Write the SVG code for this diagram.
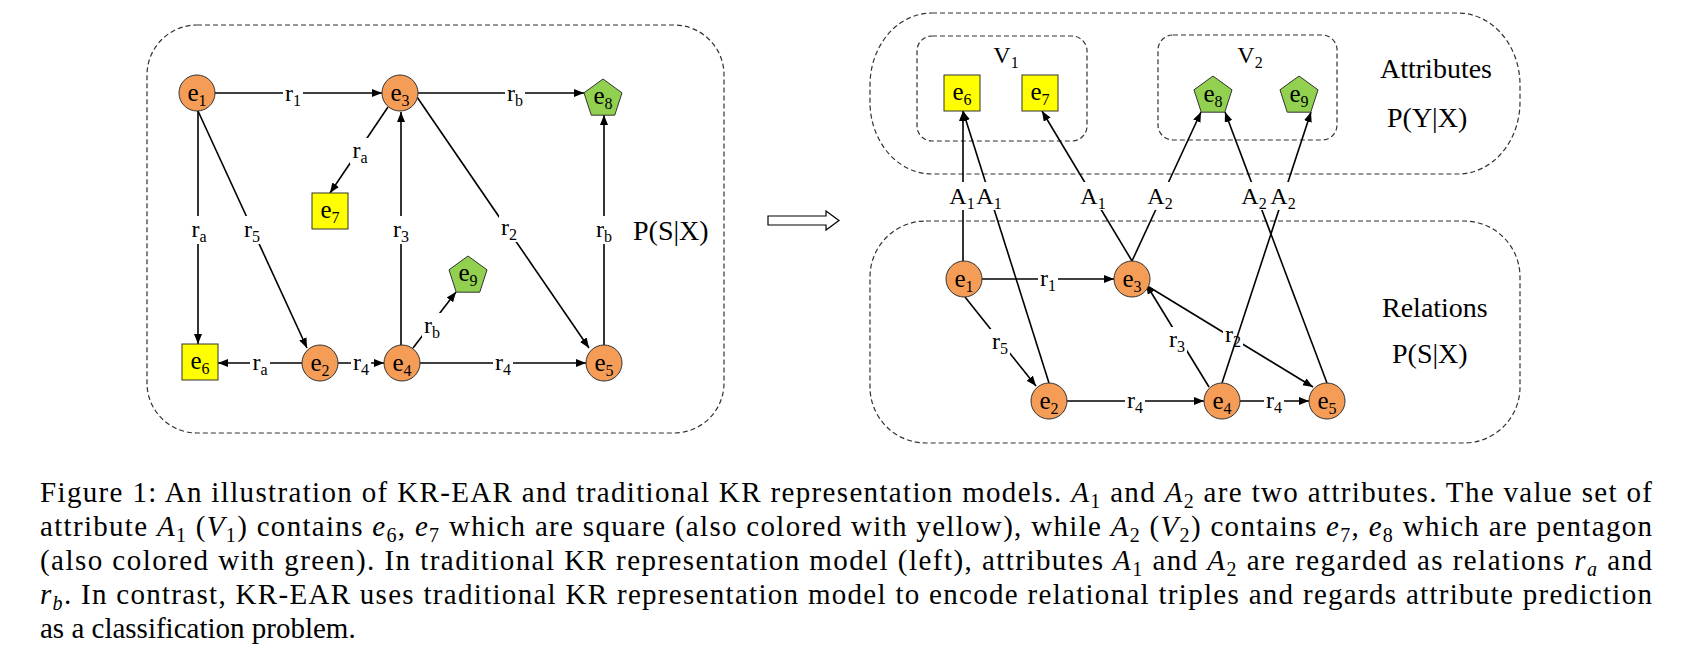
<svg xmlns="http://www.w3.org/2000/svg" width="1691" height="654" viewBox="0 0 1691 654">
<style>
text{font-family:"Liberation Serif","Times New Roman",serif;fill:#000}
.box{fill:none;stroke:#333;stroke-width:1.2;stroke-dasharray:5 3}
.edge{fill:none;stroke:#000;stroke-width:1.6;marker-end:url(#ah)}
.bg{fill:#fff}
.circ{fill:#F59D56;stroke:#333;stroke-width:1}
.sq{fill:#FFFF00;stroke:#333;stroke-width:1}
.pent{fill:#92D050;stroke:#333;stroke-width:1}
.nl{font-size:25px;text-anchor:middle}
.el{font-size:24px;text-anchor:middle}
.sub{font-size:16px}
.big{font-size:28px}
.cap{font-size:29px}
.cs{font-size:20px}
</style>
<defs>
<marker id="ah" markerUnits="userSpaceOnUse" markerWidth="11" markerHeight="9" refX="10" refY="4" orient="auto">
<path d="M0,0 L10,4 L0,8 z" fill="#000"/>
</marker>
</defs>

<!-- boxes -->
<g id="left-box"><rect class="box" x="147" y="25" width="577" height="408" rx="50" ry="50"/></g>
<g id="attr-box"><rect class="box" x="870" y="13" width="650" height="161" rx="62" ry="72"/></g>
<g id="v1-box"><rect class="box" x="917" y="36" width="170" height="105" rx="15" ry="15"/></g>
<g id="v2-box"><rect class="box" x="1158" y="35" width="179" height="105" rx="15" ry="15"/></g>
<g id="rel-box"><rect class="box" x="870" y="221" width="650" height="222" rx="56" ry="56"/></g>

<!-- connectors -->
<g id="connectors">
<path class="edge" d="M215,93 L382,93"/>
<path class="edge" d="M418,93 L584,93"/>
<path class="edge" d="M388,107 L330,193"/>
<path class="edge" d="M198,111 L198,344"/>
<path class="edge" d="M198,111 L307,348"/>
<path class="edge" d="M302,363 L218,363"/>
<path class="edge" d="M338,363 L384,363"/>
<path class="edge" d="M401,345 L401,112"/>
<path class="edge" d="M413,348 L456,292"/>
<path class="edge" d="M420,363 L586,363"/>
<path class="edge" d="M417,97 L589,348"/>
<path class="edge" d="M604,345 L604,115"/>
<g id="left-labels">
<rect class="bg" x="283" y="81" width="20" height="26"/><text class="el" x="293" y="101">r<tspan class="sub" dy="5">1</tspan></text>
<rect class="bg" x="505" y="81" width="20" height="26"/><text class="el" x="515" y="101">r<tspan class="sub" dy="5">b</tspan></text>
<rect class="bg" x="350" y="138" width="20" height="26"/><text class="el" x="360" y="158">r<tspan class="sub" dy="5">a</tspan></text>
<rect class="bg" x="189" y="216" width="20" height="28"/><text class="el" x="199" y="237">r<tspan class="sub" dy="5">a</tspan></text>
<rect class="bg" x="242" y="216" width="20" height="28"/><text class="el" x="252" y="237">r<tspan class="sub" dy="5">5</tspan></text>
<rect class="bg" x="391" y="216" width="20" height="28"/><text class="el" x="401" y="237">r<tspan class="sub" dy="5">3</tspan></text>
<rect class="bg" x="499" y="214" width="20" height="28"/><text class="el" x="509" y="235">r<tspan class="sub" dy="5">2</tspan></text>
<rect class="bg" x="594" y="216" width="20" height="28"/><text class="el" x="604" y="237">r<tspan class="sub" dy="5">b</tspan></text>
<rect class="bg" x="250" y="350" width="20" height="26"/><text class="el" x="260" y="370">r<tspan class="sub" dy="5">a</tspan></text>
<rect class="bg" x="351" y="350" width="20" height="26"/><text class="el" x="361" y="370">r<tspan class="sub" dy="5">4</tspan></text>
<rect class="bg" x="422" y="313" width="20" height="26"/><text class="el" x="432" y="333">r<tspan class="sub" dy="5">b</tspan></text>
<rect class="bg" x="493" y="350" width="20" height="26"/><text class="el" x="503" y="370">r<tspan class="sub" dy="5">4</tspan></text>
</g>
<path class="edge" d="M982,279 L1114,279"/>
<path class="edge" d="M965,297 L1036,386"/>
<path class="edge" d="M1067,401 L1204,401"/>
<path class="edge" d="M1240,401 L1309,401"/>
<path class="edge" d="M1209,387 L1146,284"/>
<path class="edge" d="M1149,287 L1313,387"/>
<g id="right-rel-labels">
<rect class="bg" x="1038" y="266" width="20" height="26"/><text class="el" x="1048" y="286">r<tspan class="sub" dy="5">1</tspan></text>
<rect class="bg" x="990" y="329" width="20" height="26"/><text class="el" x="1000" y="349">r<tspan class="sub" dy="5">5</tspan></text>
<rect class="bg" x="1125" y="388" width="20" height="26"/><text class="el" x="1135" y="408">r<tspan class="sub" dy="5">4</tspan></text>
<rect class="bg" x="1264" y="388" width="20" height="26"/><text class="el" x="1274" y="408">r<tspan class="sub" dy="5">4</tspan></text>
<rect class="bg" x="1167" y="327" width="20" height="26"/><text class="el" x="1177" y="347">r<tspan class="sub" dy="5">3</tspan></text>
<rect class="bg" x="1223" y="322" width="20" height="26"/><text class="el" x="1233" y="342">r<tspan class="sub" dy="5">2</tspan></text>
</g>
<path class="edge" d="M963,261 L963,111"/>
<path class="edge" d="M1049,383 L963,111"/>
<path class="edge" d="M1132,261 L1042,111"/>
<path class="edge" d="M1132,261 L1201,112"/>
<path class="edge" d="M1327,383 L1225,112"/>
<path class="edge" d="M1222,383 L1311,112"/>
<g id="attr-labels">
<rect class="bg" x="950" y="182" width="24" height="28"/><text class="el" x="962" y="204">A<tspan class="sub" dy="5">1</tspan></text>
<rect class="bg" x="976" y="182" width="24" height="28"/><text class="el" x="989" y="204">A<tspan class="sub" dy="5">1</tspan></text>
<rect class="bg" x="1081" y="182" width="24" height="28"/><text class="el" x="1093" y="204">A<tspan class="sub" dy="5">1</tspan></text>
<rect class="bg" x="1148" y="182" width="24" height="28"/><text class="el" x="1160" y="204">A<tspan class="sub" dy="5">2</tspan></text>
<rect class="bg" x="1243" y="182" width="24" height="28"/><text class="el" x="1254" y="204">A<tspan class="sub" dy="5">2</tspan></text>
<rect class="bg" x="1270" y="182" width="24" height="28"/><text class="el" x="1283" y="204">A<tspan class="sub" dy="5">2</tspan></text>
</g>
</g>

<!-- left nodes -->
<g id="L-e1"><circle class="circ" cx="197" cy="93" r="18"/><text class="nl" x="197" y="101">e<tspan class="sub" dy="5">1</tspan></text></g>
<g id="L-e3"><circle class="circ" cx="400" cy="93" r="18"/><text class="nl" x="400" y="101">e<tspan class="sub" dy="5">3</tspan></text></g>
<g id="L-e8"><polygon class="pent" points="603,79 622.02,92.82 614.76,115.18 591.24,115.18 583.98,92.82"/><text class="nl" x="603" y="104">e<tspan class="sub" dy="5">8</tspan></text></g>
<g id="L-e7"><rect class="sq" x="312" y="193" width="36" height="36"/><text class="nl" x="330" y="218">e<tspan class="sub" dy="5">7</tspan></text></g>
<g id="L-e6"><rect class="sq" x="182" y="344" width="36" height="36"/><text class="nl" x="200" y="369">e<tspan class="sub" dy="5">6</tspan></text></g>
<g id="L-e2"><circle class="circ" cx="320" cy="363" r="18"/><text class="nl" x="320" y="371">e<tspan class="sub" dy="5">2</tspan></text></g>
<g id="L-e4"><circle class="circ" cx="402" cy="363" r="18"/><text class="nl" x="402" y="371">e<tspan class="sub" dy="5">4</tspan></text></g>
<g id="L-e5"><circle class="circ" cx="604" cy="363" r="18"/><text class="nl" x="604" y="371">e<tspan class="sub" dy="5">5</tspan></text></g>
<g id="L-e9"><polygon class="pent" points="468,256 487.02,269.82 479.76,292.18 456.24,292.18 448.98,269.82"/><text class="nl" x="468" y="281">e<tspan class="sub" dy="5">9</tspan></text></g>
<g id="L-title"><text class="big" x="633" y="240">P(S|X)</text></g>

<!-- transition arrow -->
<g id="arrow"><polygon points="768,216 826,216 826,211 839,220.5 826,230 826,225 768,225" fill="#fff" stroke="#000" stroke-width="1.2"/></g>

<!-- right nodes -->
<g id="V1-label"><text class="el" x="1006" y="63">V<tspan class="sub" dy="5">1</tspan></text></g>
<g id="V2-label"><text class="el" x="1250" y="63">V<tspan class="sub" dy="5">2</tspan></text></g>
<g id="R-e6"><rect class="sq" x="944" y="75" width="36" height="36"/><text class="nl" x="962" y="100">e<tspan class="sub" dy="5">6</tspan></text></g>
<g id="R-e7"><rect class="sq" x="1022" y="75" width="36" height="36"/><text class="nl" x="1040" y="100">e<tspan class="sub" dy="5">7</tspan></text></g>
<g id="R-e8"><polygon class="pent" points="1213,76 1232.02,89.82 1224.76,112.18 1201.24,112.18 1193.98,89.82"/><text class="nl" x="1213" y="102">e<tspan class="sub" dy="5">8</tspan></text></g>
<g id="R-e9"><polygon class="pent" points="1299,76 1318.02,89.82 1310.76,112.18 1287.24,112.18 1279.98,89.82"/><text class="nl" x="1299" y="102">e<tspan class="sub" dy="5">9</tspan></text></g>
<g id="R-e1"><circle class="circ" cx="964" cy="279" r="18"/><text class="nl" x="964" y="287">e<tspan class="sub" dy="5">1</tspan></text></g>
<g id="R-e3"><circle class="circ" cx="1132" cy="279" r="18"/><text class="nl" x="1132" y="287">e<tspan class="sub" dy="5">3</tspan></text></g>
<g id="R-e2"><circle class="circ" cx="1049" cy="401" r="18"/><text class="nl" x="1049" y="409">e<tspan class="sub" dy="5">2</tspan></text></g>
<g id="R-e4"><circle class="circ" cx="1222" cy="401" r="18"/><text class="nl" x="1222" y="409">e<tspan class="sub" dy="5">4</tspan></text></g>
<g id="R-e5"><circle class="circ" cx="1327" cy="401" r="18"/><text class="nl" x="1327" y="409">e<tspan class="sub" dy="5">5</tspan></text></g>
<g id="R-titles">
<text class="big" x="1380" y="78">Attributes</text>
<text class="big" x="1387" y="127">P(Y|X)</text>
<text class="big" x="1382" y="317">Relations</text>
<text class="big" x="1392" y="363">P(S|X)</text>
</g>

<!-- caption -->
<g id="caption">
<text class="cap" x="40" y="502" textLength="1612" lengthAdjust="spacing">Figure 1: An illustration of KR-EAR and traditional KR representation models. <tspan font-style="italic">A</tspan><tspan class="cs" dy="6">1</tspan><tspan dy="-6"> and </tspan><tspan font-style="italic">A</tspan><tspan class="cs" dy="6">2</tspan><tspan dy="-6"> are two attributes. The value set of</tspan></text>
<text class="cap" x="40" y="536" textLength="1612" lengthAdjust="spacing">attribute <tspan font-style="italic">A</tspan><tspan class="cs" dy="6">1</tspan><tspan dy="-6"> (</tspan><tspan font-style="italic">V</tspan><tspan class="cs" dy="6">1</tspan><tspan dy="-6">) contains </tspan><tspan font-style="italic">e</tspan><tspan class="cs" dy="6">6</tspan><tspan dy="-6">, </tspan><tspan font-style="italic">e</tspan><tspan class="cs" dy="6">7</tspan><tspan dy="-6"> which are square (also colored with yellow), while </tspan><tspan font-style="italic">A</tspan><tspan class="cs" dy="6">2</tspan><tspan dy="-6"> (</tspan><tspan font-style="italic">V</tspan><tspan class="cs" dy="6">2</tspan><tspan dy="-6">) contains </tspan><tspan font-style="italic">e</tspan><tspan class="cs" dy="6">7</tspan><tspan dy="-6">, </tspan><tspan font-style="italic">e</tspan><tspan class="cs" dy="6">8</tspan><tspan dy="-6"> which are pentagon</tspan></text>
<text class="cap" x="40" y="570" textLength="1612" lengthAdjust="spacing">(also colored with green). In traditional KR representation model (left), attributes <tspan font-style="italic">A</tspan><tspan class="cs" dy="6">1</tspan><tspan dy="-6"> and </tspan><tspan font-style="italic">A</tspan><tspan class="cs" dy="6">2</tspan><tspan dy="-6"> are regarded as relations </tspan><tspan font-style="italic">r</tspan><tspan class="cs" font-style="italic" dy="6">a</tspan><tspan dy="-6"> and</tspan></text>
<text class="cap" x="40" y="604" textLength="1612" lengthAdjust="spacing"><tspan font-style="italic">r</tspan><tspan class="cs" font-style="italic" dy="6">b</tspan><tspan dy="-6">. In contrast, KR-EAR uses traditional KR representation model to encode relational triples and regards attribute prediction</tspan></text>
<text class="cap" x="40" y="638">as a classification problem.</text>
</g>
</svg>
